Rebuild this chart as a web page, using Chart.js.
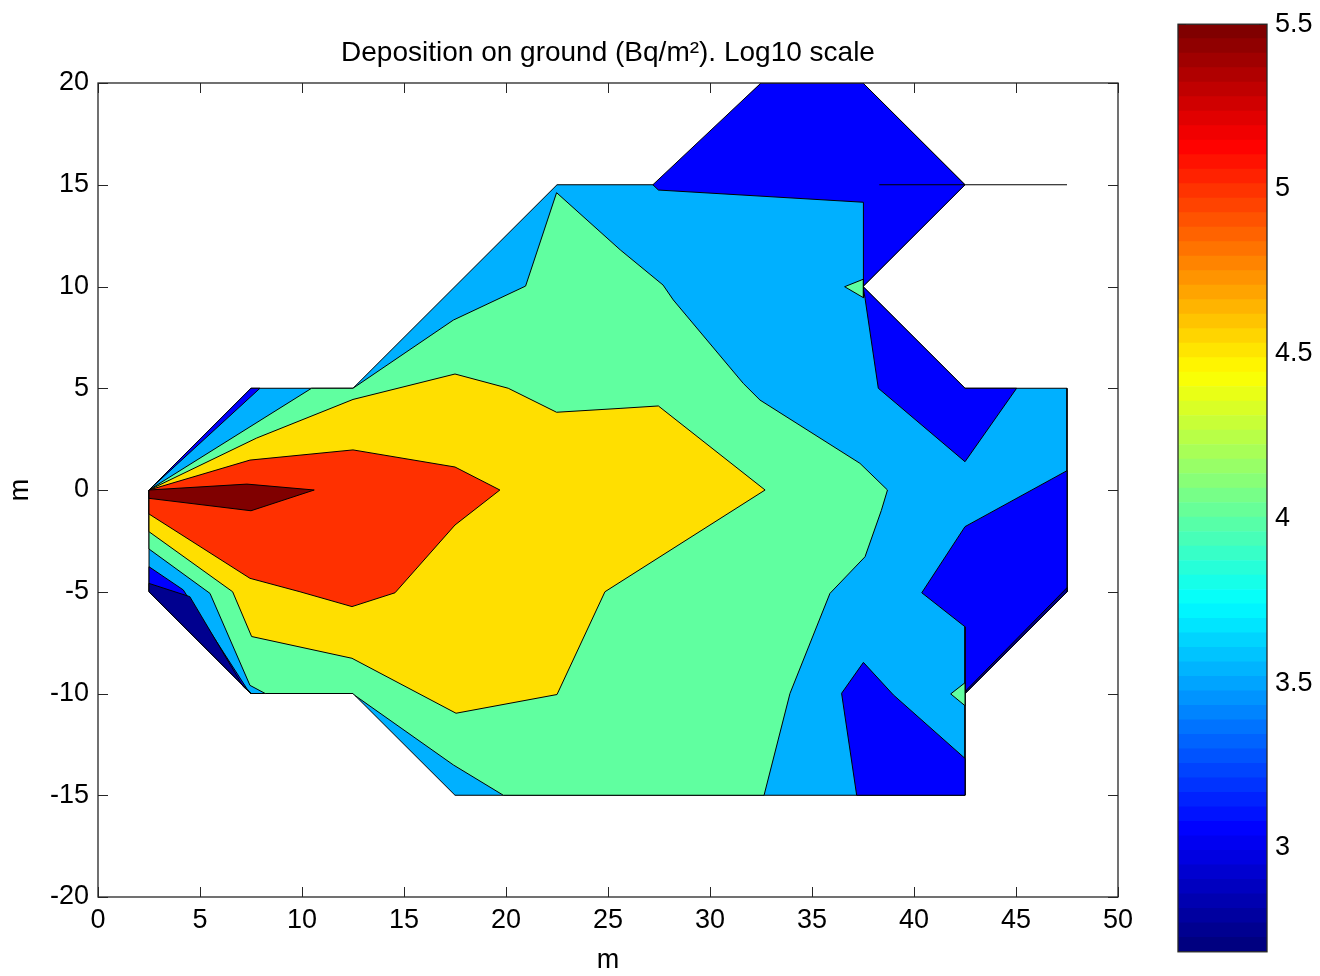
<!DOCTYPE html>
<html>
<head>
<meta charset="utf-8">
<title>Deposition on ground</title>
<script src="https://cdn.jsdelivr.net/npm/chart.js@4.4.1/dist/chart.umd.min.js"></script>
<style>
  body { margin: 0; background: #fff; }
  #wrap { position: relative; width: 1320px; height: 976px; }
  #contour { position: absolute; left: 0; top: 0; }
  #colorbar { position: absolute; left: 1160px; top: 0; }
</style>
</head>
<body>
<div id="wrap">
  <canvas id="contour" width="1160" height="976"></canvas>
  <canvas id="colorbar" width="160" height="976"></canvas>
</div>
<script>
// contour regions, [x, y] in metres
const domain = [[2.5,0],[7.5,5],[12.5,5],[22.5,15],[27.5,15],[32.5,20],[37.5,20],[42.5,15],[37.5,10],[42.5,5],[47.5,5],[47.5,-5],[42.5,-10],[42.5,-15],[17.5,-15],[12.5,-10],[7.5,-10],[2.5,-5],[2.5,0]];

const blueTopLeft = [[2.5,0],[7.5,5],[7.94,5],[2.5,0]];
const blueBottomLeft = [[2.5,-3.77],[4.18,-4.91],[7.29,-9.75],[7.5,-10],[2.5,-5],[2.5,-3.77]];
const navyBottomLeft = [[2.5,-4.59],[4.5,-5.24],[7.12,-9.66],[7.5,-10],[2.5,-5],[2.5,-4.59]];
const blueTop = [[27.2,15],[32.5,20],[37.5,20],[42.5,15],[37.5,10],[37.52,10.36],[37.52,14.14],[27.47,14.74],[27.2,15]];
const blueRightMid = [[37.5,10],[42.5,5],[45.03,5],[42.5,1.39],[38.25,5],[37.6,9.42],[37.5,10]];
const blueRightLow = [[47.5,0.95],[42.5,-1.8],[40.38,-5.05],[42.5,-6.72],[42.5,-10],[47.5,-5],[47.5,0.95]];
const navyRightEdge = [[47.5,-5],[47.5,-4.8],[42.6,-9.8],[42.5,-10],[47.5,-5]];
const blueBottom = [[37.52,-8.47],[36.45,-9.99],[37.19,-15],[42.5,-15],[42.5,-13.19],[38.99,-10.07],[37.52,-8.47]];

const green = [[2.5,0],[10.47,5],[12.5,5],[17.42,8.35],[20.96,10.02],[22.48,14.61],[25.6,11.8],[27.7,10.07],[28.2,9.34],[31.63,5.24],[32.45,4.42],[37.35,1.31],[38.7,0],[38.4,-1],[37.6,-3.28],[35.88,-5.08],[33.92,-10],[32.65,-15],[19.87,-15],[17.42,-13.51],[12.6,-10.1],[12.5,-10],[8.2,-10],[7.45,-9.6],[5.49,-5.08],[2.5,-2.9],[2.5,0]];
const greenTriUpper = [[36.6,9.99],[37.52,10.36],[37.52,9.45],[36.6,9.99]];
const greenTriLower = [[42.5,-9.47],[41.8,-10.02],[42.5,-10.6],[42.5,-9.47]];

const yellow = [[2.5,0],[7.77,2.55],[12.5,4.45],[17.5,5.7],[20.11,5],[22.48,3.82],[25.59,4.01],[27.47,4.13],[32.7,0],[24.85,-5],[22.5,-10.05],[17.55,-10.97],[12.45,-8.27],[7.53,-7.2],[6.6,-5],[2.5,-2.05],[2.5,0]];
const red = [[2.5,0],[7.45,1.47],[12.5,1.97],[17.5,1.13],[19.7,0],[17.5,-1.72],[14.56,-5.05],[12.45,-5.73],[9.9,-5],[7.45,-4.34],[2.5,-1.18],[2.5,0]];
const darkRed = [[2.5,0],[7.3,0.29],[10.6,0],[7.5,-1.02],[2.5,-0.41],[2.5,0]];

const edgeLine = [[38.3,15],[47.5,15]];

const xTicks = [0,5,10,15,20,25,30,35,40,45,50];
const yTicks = [-20,-15,-10,-5,0,5,10,15,20];
const cbTicks = [3,3.5,4,4.5,5,5.5];
const cMin = 2.685, cMax = 5.5;

const NAVY = '#00008F', BLUE = '#0000FF', LBLUE = '#00B0FF', GREEN = '#60FFA0',
      YELLOW = '#FFDF00', RED = '#FF3000', DRED = '#800000';

const FONT = '"Liberation Sans", Arial, Helvetica, sans-serif';
const AXIS = '#262626';

// bottom layer first
const layers = [
  [domain, LBLUE],
  [blueTopLeft, BLUE],
  [blueBottomLeft, BLUE],
  [navyBottomLeft, NAVY],
  [blueTop, BLUE],
  [blueRightMid, BLUE],
  [blueRightLow, BLUE],
  [navyRightEdge, NAVY],
  [blueBottom, BLUE],
  [green, GREEN],
  [greenTriUpper, GREEN],
  [greenTriLower, GREEN],
  [yellow, YELLOW],
  [red, RED],
  [darkRed, DRED]
];

const toPts = arr => arr.map(p => ({x: p[0], y: p[1]}));

const datasets = layers.map((l, i) => ({
  data: toPts(l[0]),
  showLine: true,
  fill: 'shape',
  backgroundColor: l[1],
  borderColor: '#000',
  borderWidth: 1,
  pointRadius: 0,
  tension: 0,
  order: layers.length + 1 - i
}));
datasets.push({
  data: toPts(edgeLine),
  showLine: true,
  fill: false,
  borderColor: '#000',
  borderWidth: 1.2,
  pointRadius: 0,
  order: 0
});

// matlab style box with ticks pointing inwards
function boxTicks(len, xs, ys) {
  return {
    id: 'boxTicks',
    beforeDatasetsDraw(chart) {
      const {ctx, chartArea: a, scales} = chart;
      ctx.save();
      ctx.strokeStyle = AXIS;
      ctx.lineWidth = 1;
      ctx.beginPath();
      if (xs) xs.forEach(v => {
        const px = Math.round(scales.x.getPixelForValue(v)) + 0.5;
        ctx.moveTo(px, a.bottom); ctx.lineTo(px, a.bottom - len);
        ctx.moveTo(px, a.top); ctx.lineTo(px, a.top + len);
      });
      ys.forEach(v => {
        const py = Math.round(scales.y.getPixelForValue(v)) + 0.5;
        ctx.moveTo(a.left, py); ctx.lineTo(a.left + len, py);
        ctx.moveTo(a.right, py); ctx.lineTo(a.right - len, py);
      });
      ctx.stroke();
      ctx.restore();
    },
    afterDatasetsDraw(chart) {
      const {ctx, chartArea: a} = chart;
      ctx.save();
      ctx.strokeStyle = AXIS;
      ctx.lineWidth = 1.3;
      ctx.strokeRect(a.left, a.top, a.right - a.left, a.bottom - a.top);
      ctx.restore();
    }
  };
}

new Chart(document.getElementById('contour'), {
  type: 'scatter',
  data: { datasets: datasets },
  options: {
    responsive: false,
    animation: false,
    events: [],
    layout: { padding: { left: 0, right: 42, top: 0, bottom: 0 } },
    plugins: {
      legend: { display: false },
      tooltip: { enabled: false }
    },
    scales: {
      x: {
        type: 'linear', min: 0, max: 50,
        afterBuildTicks: s => { s.ticks = xTicks.map(v => ({value: v})); },
        afterFit: s => { s.height = 79; },
        grid: { display: false, drawTicks: false },
        border: { display: false },
        ticks: { color: '#000', padding: 7, font: { family: FONT, size: 27 } },
        title: { display: true, text: 'm', color: '#000', padding: { top: 0, bottom: 2 }, font: { family: FONT, size: 27, lineHeight: 1 } }
      },
      // top axis only carries the heading, centred over the plot box
      xTop: {
        type: 'linear', position: 'top', min: 0, max: 50,
        afterFit: s => { s.height = 83; },
        grid: { display: false, drawTicks: false },
        border: { display: false },
        ticks: { display: false },
        title: {
          display: true,
          text: 'Deposition on ground (Bq/m²). Log10 scale',
          color: '#000',
          padding: { top: 39, bottom: 0 },
          font: { family: FONT, size: 28, lineHeight: 1 }
        }
      },
      y: {
        type: 'linear', min: -20, max: 20,
        afterBuildTicks: s => { s.ticks = yTicks.map(v => ({value: v})); },
        afterFit: s => { s.width = 98; },
        grid: { display: false, drawTicks: false },
        border: { display: false },
        ticks: { color: '#000', padding: 9, font: { family: FONT, size: 27 } },
        title: { display: true, text: 'm', color: '#000', padding: { top: 7, bottom: 0 }, font: { family: FONT, size: 27, lineHeight: 1 } }
      }
    }
  },
  plugins: [boxTicks(10, xTicks, yTicks)]
});

// jet colormap, 64 steps
function jet(t) {
  const c = v => Math.round(255 * Math.max(0, Math.min(1, v)));
  return 'rgb(' + c(1.5 - Math.abs(4 * t - 3)) + ',' + c(1.5 - Math.abs(4 * t - 2)) + ',' + c(1.5 - Math.abs(4 * t - 1)) + ')';
}
const nColors = 64;
const step = (cMax - cMin) / nColors;
const cbSets = [];
for (let i = 0; i < nColors; i++) {
  cbSets.push({
    data: [[cMin + i * step, cMin + (i + 1) * step]],
    backgroundColor: jet(i / (nColors - 1)),
    borderWidth: 0,
    grouped: false,
    barPercentage: 1,
    categoryPercentage: 1
  });
}

new Chart(document.getElementById('colorbar'), {
  type: 'bar',
  data: { labels: [''], datasets: cbSets },
  options: {
    responsive: false,
    animation: false,
    events: [],
    layout: { padding: { left: 18, right: 0, top: 22, bottom: 16 } },
    plugins: { legend: { display: false }, tooltip: { enabled: false } },
    scales: {
      x: { display: false },
      y: {
        position: 'right',
        min: cMin, max: cMax,
        afterBuildTicks: s => { s.ticks = cbTicks.map(v => ({value: v})); },
        afterFit: s => { s.width = 53; },
        grid: { display: false, drawTicks: false },
        border: { display: false },
        ticks: { color: '#000', padding: 8, font: { family: FONT, size: 27 }, callback: v => String(v) }
      }
    }
  },
  plugins: [boxTicks(8, null, cbTicks)]
});
</script>
</body>
</html>
